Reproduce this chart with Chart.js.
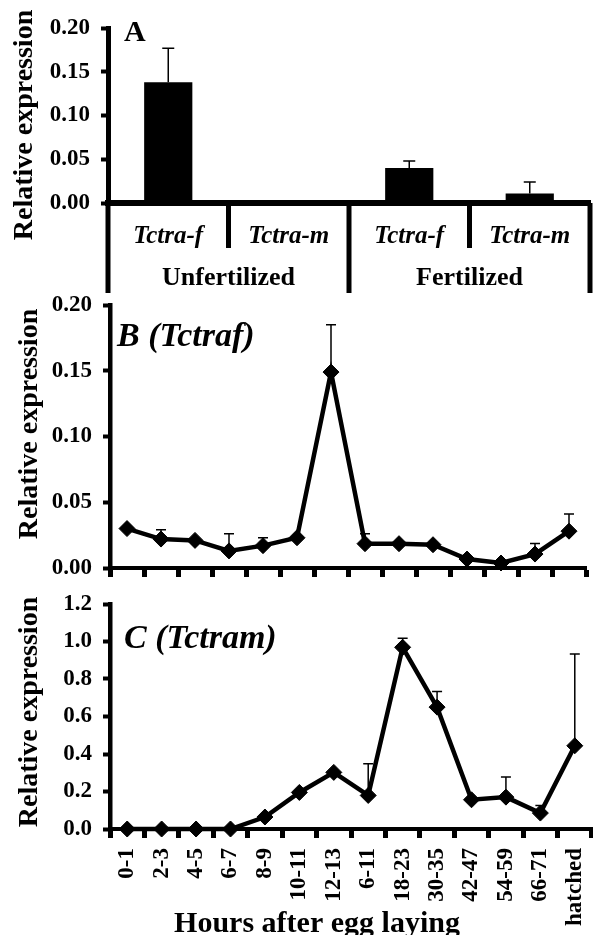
<!DOCTYPE html>
<html>
<head>
<meta charset="utf-8">
<script src="https://cdn.jsdelivr.net/npm/chart.js@4.4.1/dist/chart.umd.min.js"></script>
<style>
  html, body { margin: 0; padding: 0; background: #fff; }
  #wrap { position: relative; width: 593px; height: 935px; overflow: hidden; }
  canvas { position: absolute; left: 0; }
</style>
</head>
<body>
<div id="wrap">
  <canvas id="chartA" width="593" height="300" style="top:0"></canvas>
  <canvas id="chartB" width="593" height="300" style="top:290px"></canvas>
  <canvas id="chartC" width="593" height="345" style="top:590px"></canvas>
</div>
<script>
// panel A
const genes = ["Tctra-f", "Tctra-m", "Tctra-f", "Tctra-m"];
const groups = ["Unfertilized", "Fertilized"];
const expA = [0.138, 0, 0.040, 0.011];
const errA = [0.039, 0, 0.008, 0.013];
const yTicksA = [0, 0.05, 0.10, 0.15, 0.20];

// panels B and C
const hours = ["0-1", "2-3", "4-5", "6-7", "8-9", "10-11", "12-13", "6-11", "18-23", "30-35", "42-47", "54-59", "66-71", "hatched"];
const expB = [0.030, 0.022, 0.021, 0.013, 0.017, 0.023, 0.149, 0.0185, 0.0185, 0.0177, 0.0068, 0.0038, 0.0106, 0.028];
const errB = [0, 0.007, 0, 0.013, 0.006, 0, 0.036, 0.0075, 0, 0, 0, 0, 0.008, 0.013];
const yTicksB = [0, 0.05, 0.10, 0.15, 0.20];
const expC = [0, 0, 0, 0, 0.064, 0.195, 0.302, 0.179, 0.969, 0.650, 0.156, 0.170, 0.085, 0.444];
const errC = [0, 0, 0, 0, 0, 0, 0, 0.169, 0.048, 0.083, 0, 0.107, 0.041, 0.49];
const yTicksC = [0, 0.2, 0.4, 0.6, 0.8, 1.0, 1.2];

const SERIF = '"Liberation Serif", "Times New Roman", serif';
Chart.defaults.font.family = SERIF;
Chart.defaults.font.weight = 'bold';
Chart.defaults.color = '#000';

const errorBars = {
  id: 'errorBars',
  afterDatasetsDraw(chart, args, opts) {
    const ctx = chart.ctx;
    const meta = chart.getDatasetMeta(0);
    const y = chart.scales.y;
    const vals = chart.data.datasets[0].data;
    ctx.save();
    ctx.strokeStyle = '#000';
    ctx.lineWidth = opts.width;
    opts.errors.forEach((e, i) => {
      if (!e) return;
      const x = meta.data[i].x;
      const y0 = y.getPixelForValue(vals[i]);
      const y1 = y.getPixelForValue(vals[i] + e);
      ctx.beginPath();
      ctx.moveTo(x, y0);
      ctx.lineTo(x, y1);
      ctx.moveTo(x - opts.cap, y1);
      ctx.lineTo(x + opts.cap, y1);
      ctx.stroke();
    });
    ctx.restore();
  }
};

const texts = {
  id: 'texts',
  afterDraw(chart, args, opts) {
    const ctx = chart.ctx;
    opts.items.forEach(t => {
      ctx.save();
      ctx.font = t.font;
      ctx.fillStyle = '#000';
      ctx.textAlign = t.align || 'left';
      ctx.textBaseline = t.baseline || 'alphabetic';
      ctx.translate(t.x, t.y);
      if (t.rotate) ctx.rotate(t.rotate);
      ctx.fillText(t.text, 0, 0);
      ctx.restore();
    });
  }
};

// dividers and two-level category labels under panel A
const groupAxis = {
  id: 'groupAxis',
  afterDraw(chart) {
    const { ctx, chartArea: a, scales: { x } } = chart;
    const w = x.width / genes.length;
    ctx.save();
    ctx.strokeStyle = '#000';
    ctx.fillStyle = '#000';
    ctx.lineWidth = 5;
    const lines = [[a.left, 90]];
    genes.forEach((g, i) => lines.push([x.getPixelForValue(i) + w / 2, i % 2 ? 90 : 45]));
    lines.forEach(([lx, len]) => {
      ctx.beginPath();
      ctx.moveTo(lx, a.bottom);
      ctx.lineTo(lx, a.bottom + len);
      ctx.stroke();
    });
    ctx.textAlign = 'center';
    ctx.font = 'italic bold 25px ' + SERIF;
    genes.forEach((g, i) => ctx.fillText(g, x.getPixelForValue(i), a.bottom + 40));
    ctx.font = 'bold 26px ' + SERIF;
    groups.forEach((g, i) => {
      const cx = (x.getPixelForValue(2 * i) + x.getPixelForValue(2 * i + 1)) / 2;
      ctx.fillText(g, cx, a.bottom + 82);
    });
    ctx.restore();
  }
};

function yAxis(ticks, digits, width, border) {
  return {
    min: ticks[0],
    max: ticks[ticks.length - 1],
    afterBuildTicks: s => { s.ticks = ticks.map(v => ({ value: v })); },
    afterFit: s => { s.width = width; s.paddingTop = 0; s.paddingBottom = 0; },
    grid: { drawOnChartArea: false, tickLength: 7, tickWidth: 4, color: '#000' },
    border: { color: '#000', width: border },
    ticks: { padding: 11, font: { size: 23, weight: 'bold' }, callback: v => v.toFixed(digits) }
  };
}

function xAxis(height, showLabels) {
  return {
    offset: true,
    afterFit: s => { s.height = height; s.paddingLeft = 0; s.paddingRight = 0; },
    grid: { offset: true, drawOnChartArea: false, tickLength: 9, tickWidth: 5, color: '#000' },
    border: { color: '#000', width: 4 },
    ticks: {
      display: showLabels, autoSkip: false, minRotation: 90, maxRotation: 90,
      padding: 10, font: { size: 23, weight: 'bold' }
    }
  };
}

const yTitle = (x, y) => ({
  text: 'Relative expression', x, y, font: 'bold 28px ' + SERIF,
  align: 'center', baseline: 'middle', rotate: -Math.PI / 2
});

new Chart(document.getElementById('chartA'), {
  type: 'bar',
  data: {
    labels: genes,
    datasets: [{ data: expA, backgroundColor: '#000', barPercentage: 0.4, categoryPercentage: 1 }]
  },
  options: {
    responsive: false,
    animation: false,
    layout: { autoPadding: false, padding: { top: 28, right: 3, left: 0, bottom: 0 } },
    scales: {
      x: {
        afterFit: s => { s.height = 97; s.paddingLeft = 0; s.paddingRight = 0; },
        grid: { display: false },
        border: { color: '#000', width: 6 },
        ticks: { display: false }
      },
      y: yAxis(yTicksA, 2, 108, 5)
    },
    plugins: {
      legend: { display: false },
      tooltip: { enabled: false },
      errorBars: { errors: errA, width: 1.5, cap: 6 },
      texts: { items: [
        { text: 'A', x: 124, y: 41, font: 'bold 30px ' + SERIF },
        yTitle(25, 125)
      ] }
    }
  },
  plugins: [errorBars, groupAxis, texts]
});

function lineConfig(values, errors, ticks, digits, xHeight, showLabels, padding, items) {
  return {
    type: 'line',
    data: {
      labels: hours,
      datasets: [{
        data: values, borderColor: '#000', backgroundColor: '#000', borderWidth: 4.5,
        tension: 0, clip: false, pointStyle: 'rectRot', pointRadius: 8,
        pointBackgroundColor: '#000', pointBorderColor: '#000', pointBorderWidth: 1
      }]
    },
    options: {
      responsive: false,
      animation: false,
      layout: { autoPadding: false, padding },
      scales: { x: xAxis(xHeight, showLabels), y: yAxis(ticks, digits, 110, 4.5) },
      plugins: {
        legend: { display: false },
        tooltip: { enabled: false },
        errorBars: { errors, width: 1.5, cap: 5 },
        texts: { items }
      }
    },
    plugins: [errorBars, texts]
  };
}

new Chart(document.getElementById('chartB'), lineConfig(expB, errB, yTicksB, 2, 22, false,
  { top: 15, right: 7, left: 0, bottom: 0 },
  [
    { text: 'B (Tctraf)', x: 117, y: 56, font: 'italic bold 34px ' + SERIF },
    yTitle(30, 134)
  ]));

new Chart(document.getElementById('chartC'), lineConfig(expC, errC, yTicksC, 1, 106, true,
  { top: 14, right: 1, left: 0, bottom: 0 },
  [
    { text: 'C (Tctram)', x: 124, y: 58, font: 'italic bold 34px ' + SERIF },
    yTitle(30, 122),
    { text: 'Hours after egg laying', x: 317, y: 342, font: 'bold 30px ' + SERIF, align: 'center' }
  ]));
</script>
</body>
</html>
